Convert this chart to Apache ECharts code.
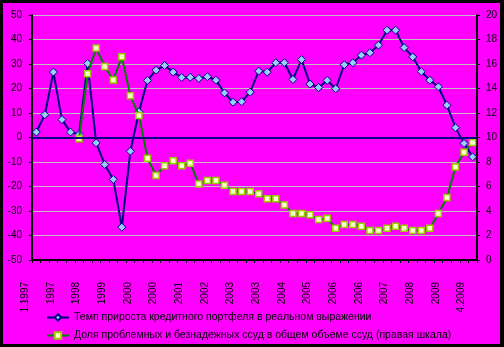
<!DOCTYPE html>
<html>
<head>
<meta charset="utf-8">
<script src="https://cdn.jsdelivr.net/npm/echarts@6/dist/echarts.min.js"></script>
<style>
  html, body { margin: 0; padding: 0; background: #000; width: 504px; height: 347px; overflow: hidden; }
  #chart { position: absolute; left: 3px; top: 3px; width: 497px; height: 341px; }
</style>
</head>
<body>
<div id="chart"></div>
<script>
// Quarters 1.1997 ... 4.2009
const categories = [];
for (let y = 1997; y <= 2009; y++) {
  for (let q = 1; q <= 4; q++) categories.push(q + '.' + y);
}

// Labels shown on every third quarter
const tickLabels = ['1.1997', '1997', '1998', '1999', '2000', '2000', '2001', '2002', '2003',
  '2003', '2004', '2005', '2006', '2006', '2007', '2008', '2009', '4.2009'];

// Real growth of the loan portfolio, % (left scale)
const loanGrowth = [2.2, 9.3, 26.7, 7.3, 2.2, 1.2, 30.2, -2.2, -11, -17.1, -36.6, -5.6,
  10.5, 23.3, 27.5, 29.4, 26.7, 24.5, 24.6, 24.1, 24.8, 23.4, 18.2, 14.4,
  14.6, 18.5, 27.1, 26.7, 30.5, 30.5, 23.7, 31.8, 21.8, 20.4, 23.3, 19.9,
  29.7, 30.5, 33.6, 34.6, 37.7, 43.8, 43.8, 36.7, 32.9, 26.9, 23.4, 20.7,
  13.2, 4.0, -2.4, -7.9];

// Share of problem and bad loans, % (right scale)
const badLoanShare = [null, null, null, null, null, 9.9, 15.2, 17.3, 15.8, 14.7, 16.6, 13.4,
  11.8, 8.3, 6.9, 7.7, 8.1, 7.7, 7.9, 6.2, 6.5, 6.5, 6.1, 5.6,
  5.6, 5.6, 5.4, 5.0, 5.0, 4.5, 3.8, 3.8, 3.7, 3.3, 3.4, 2.6,
  2.9, 2.9, 2.75, 2.4, 2.4, 2.6, 2.75, 2.6, 2.4, 2.4, 2.6, 3.8,
  5.1, 7.6, 8.8, 9.6];

const seriesNames = [
  'Темп прироста кредитного портфеля в реальном выражении',
  'Доля проблемных и безнадежных ссуд в общем объеме ссуд (правая шкала)'
];

const font = 'Arial, "Liberation Sans", sans-serif';
const chart = echarts.init(document.getElementById('chart'), null, { renderer: 'canvas' });

const legendBase = {
  orient: 'vertical',
  left: 43,
  padding: 0,
  itemWidth: 22,
  itemHeight: 8,
  itemGap: 0,
  textStyle: { fontFamily: font, fontSize: 10.5, color: '#000' }
};

chart.setOption({
  backgroundColor: '#ff00ff',
  animation: false,
  textStyle: { fontFamily: font, color: '#000' },
  grid: { left: 29, right: 23, top: 12, bottom: 84, containLabel: false },
  legend: [
    Object.assign({}, legendBase, { top: 309, data: [seriesNames[0]] }),
    Object.assign({}, legendBase, { top: 327, data: [seriesNames[1]] })
  ],
  xAxis: {
    type: 'category',
    data: categories,
    boundaryGap: true,
    position: 'bottom',
    axisLine: { onZero: false, lineStyle: { color: '#000', width: 2 } },
    axisTick: { show: true, interval: 0, length: 3, lineStyle: { color: '#000' } },
    axisLabel: {
      interval: 2,
      rotate: 90,
      margin: 22,
      fontSize: 10,
      color: '#000',
      verticalAlign: 'bottom',
      lineHeight: 22,
      formatter: function (v, i) { return tickLabels[Math.round(i / 3)]; }
    },
    splitLine: { show: false }
  },
  yAxis: [
    {
      type: 'value',
      min: -50, max: 50, interval: 10,
      position: 'left',
      axisLine: { show: true, lineStyle: { color: '#000', width: 2 } },
      axisTick: { show: true, length: 3, lineStyle: { color: '#000' } },
      axisLabel: { fontSize: 10, color: '#000', margin: 10 },
      splitLine: { show: true, lineStyle: { color: '#c0c0c0', width: 1 } }
    },
    {
      type: 'value',
      min: 0, max: 20, interval: 2,
      position: 'right',
      axisLine: { show: true, lineStyle: { color: '#000', width: 2 } },
      axisTick: { show: true, length: 3, lineStyle: { color: '#000' } },
      axisLabel: { fontSize: 10, color: '#000', margin: 9 },
      splitLine: { show: false }
    }
  ],
  series: [
    {
      name: seriesNames[0],
      type: 'line',
      yAxisIndex: 0,
      data: loanGrowth,
      symbol: 'diamond',
      symbolSize: 8,
      showAllSymbol: true,
      lineStyle: { color: '#000080', width: 2 },
      itemStyle: { color: '#99ccff', borderColor: '#000080', borderWidth: 1 },
      z: 3,
      markLine: {
        silent: true,
        symbol: 'none',
        label: { show: false },
        lineStyle: { color: '#000080', width: 2, type: 'solid' },
        data: [{ yAxis: 0 }]
      }
    },
    {
      name: seriesNames[1],
      type: 'line',
      yAxisIndex: 1,
      data: badLoanShare,
      symbol: 'rect',
      symbolSize: 6,
      showAllSymbol: true,
      lineStyle: { color: '#008000', width: 2 },
      itemStyle: { color: '#ffffcc', borderColor: '#99cc00', borderWidth: 1.5 },
      z: 4
    }
  ]
});
</script>
</body>
</html>
